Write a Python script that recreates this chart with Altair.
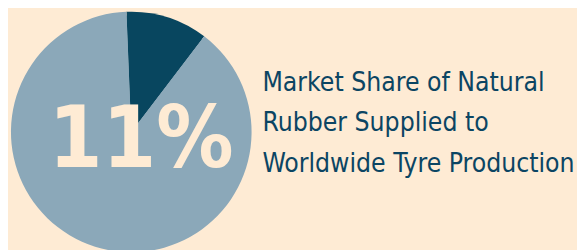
import altair as alt
import pandas as pd
import math

categories = ["Natural rubber", "Other"]
shares = [11, 89]
big_label = "11%"
title_lines = ["Market Share of Natural", "Rubber Supplied to", "Worldwide Tyre Production"]

BG = "#FEEBD4"
DARK = "#08465F"
LIGHT = "#8BA8B9"
FONT = "DejaVu Sans Condensed, Roboto Condensed, Roboto, sans-serif"

df = pd.DataFrame({"cat": categories, "share": shares, "order": [0, 1]})

off = -0.04
theta_scale = alt.Scale(domain=[0, 100], range=[off, off + 2 * math.pi])

base = alt.Chart(df)

pie_all = base.mark_arc(radius=118).encode(
    theta=alt.Theta("share:Q", stack=True, scale=theta_scale),
    color=alt.Color("cat:N", scale=alt.Scale(domain=categories, range=[DARK, LIGHT]), legend=None),
    order=alt.Order("order:Q"),
    x=alt.value(125), y=alt.value(124),
)

dark = base.mark_arc(radius=122).encode(
    theta=alt.Theta("share:Q", stack=True, scale=theta_scale),
    color=alt.Color("cat:N", scale=alt.Scale(domain=categories, range=[DARK, "transparent"]), legend=None),
    order=alt.Order("order:Q"),
    x=alt.value(125), y=alt.value(124),
)

big = alt.Chart(pd.DataFrame({"t": [big_label]})).mark_text(
    font=FONT, fontWeight="bold", fontSize=87,
    color=BG, align="center", baseline="alphabetic",
).encode(text="t:N", x=alt.value(135), y=alt.value(160))

title = alt.Chart(pd.DataFrame({"t": [0]})).mark_text(
    font=FONT, fontSize=26.7, color="#0B4563",
    align="left", baseline="alphabetic", lineHeight=41.5, text=title_lines,
).encode(x=alt.value(258), y=alt.value(82))

chart = alt.layer(pie_all, dark, big, title).properties(
    width=577, height=242, background=BG, padding=0,
    autosize=alt.AutoSizeParams(type="none"),
).configure_view(stroke=None)

chart.save("out.html", embed_options={"renderer": "svg", "actions": False})
